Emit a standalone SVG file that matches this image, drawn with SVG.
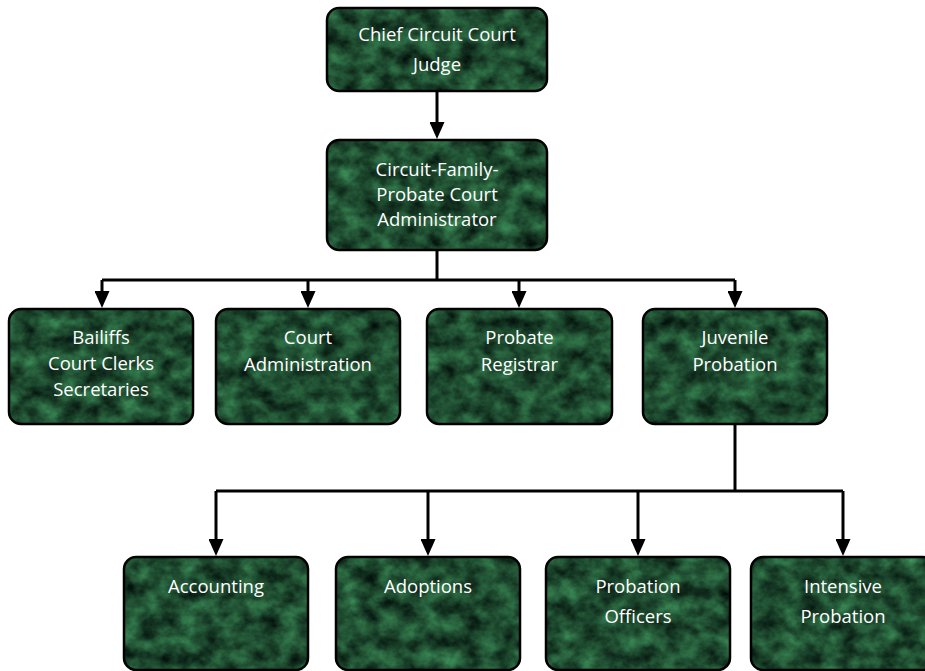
<svg xmlns="http://www.w3.org/2000/svg" width="925" height="671" viewBox="0 0 925 671">
<defs>
<filter id="marble" x="0" y="0" width="1" height="1" color-interpolation-filters="sRGB">
<feTurbulence type="fractalNoise" baseFrequency="0.05 0.06" numOctaves="4" seed="7" result="n"/>
<feColorMatrix in="n" type="matrix" values="0.28 0 0 0 -0.02  0.62 0 0 0 -0.01  0.38 0 0 0 -0.0  0 0 0 0 1" result="c"/>
<feComposite in="c" in2="SourceAlpha" operator="in"/>
</filter>
<marker id="arr" viewBox="0 0 17 15" refX="9" refY="7.5" markerWidth="17" markerHeight="15" markerUnits="userSpaceOnUse" orient="auto">
<path d="M0,0 L17,7.5 L0,15 z" fill="#000"/>
</marker>
</defs>
<style>
.bg{fill:#1f5230;filter:url(#marble);}
.bd{fill:none;stroke:#000;stroke-width:2.5;}
.t{fill:#fff;font-family:"Open Sans","Liberation Sans",sans-serif;font-size:18.5px;text-anchor:middle;}
.ln{fill:none;stroke:#000;stroke-width:3;}
.ar{marker-end:url(#arr);}
</style>
<g id="connectors">
<path class="ln ar" d="M437 91 V131"/>
<path class="ln" d="M437 250 V280 M102 280 H735"/>
<path class="ln ar" d="M102 280 V300"/>
<path class="ln ar" d="M308 280 V300"/>
<path class="ln ar" d="M519 280 V300"/>
<path class="ln ar" d="M735 280 V300"/>
<path class="ln" d="M735 424 V491 M216 491 H843"/>
<path class="ln ar" d="M216 491 V548"/>
<path class="ln ar" d="M428 491 V548"/>
<path class="ln ar" d="M638 491 V548"/>
<path class="ln ar" d="M843 491 V548"/>
</g>
<g id="chief">
<rect class="bg" x="327" y="8" width="220" height="83" rx="12"/>
<rect class="bd" x="327" y="8" width="220" height="83" rx="12"/>
<text class="t" x="437" y="41">Chief Circuit Court</text>
<text class="t" x="437" y="71">Judge</text>
</g>
<g id="administrator">
<rect class="bg" x="327" y="140" width="220" height="110" rx="12"/>
<rect class="bd" x="327" y="140" width="220" height="110" rx="12"/>
<text class="t" x="437" y="176">Circuit-Family-</text>
<text class="t" x="437" y="201">Probate Court</text>
<text class="t" x="437" y="226">Administrator</text>
</g>
<g id="bailiffs">
<rect class="bg" x="9" y="309" width="184" height="115" rx="12"/>
<rect class="bd" x="9" y="309" width="184" height="115" rx="12"/>
<text class="t" x="101" y="344">Bailiffs</text>
<text class="t" x="101" y="370">Court Clerks</text>
<text class="t" x="101" y="396">Secretaries</text>
</g>
<g id="court-admin">
<rect class="bg" x="216" y="309" width="184" height="115" rx="12"/>
<rect class="bd" x="216" y="309" width="184" height="115" rx="12"/>
<text class="t" x="308" y="344">Court</text>
<text class="t" x="308" y="371">Administration</text>
</g>
<g id="probate-registrar">
<rect class="bg" x="427" y="309" width="185" height="115" rx="12"/>
<rect class="bd" x="427" y="309" width="185" height="115" rx="12"/>
<text class="t" x="519.5" y="344">Probate</text>
<text class="t" x="519.5" y="371">Registrar</text>
</g>
<g id="juvenile-probation">
<rect class="bg" x="643" y="309" width="184" height="115" rx="12"/>
<rect class="bd" x="643" y="309" width="184" height="115" rx="12"/>
<text class="t" x="735" y="344">Juvenile</text>
<text class="t" x="735" y="371">Probation</text>
</g>
<g id="accounting">
<rect class="bg" x="124" y="557" width="184" height="113" rx="12"/>
<rect class="bd" x="124" y="557" width="184" height="113" rx="12"/>
<text class="t" x="216" y="593">Accounting</text>
</g>
<g id="adoptions">
<rect class="bg" x="336" y="557" width="184" height="113" rx="12"/>
<rect class="bd" x="336" y="557" width="184" height="113" rx="12"/>
<text class="t" x="428" y="593">Adoptions</text>
</g>
<g id="probation-officers">
<rect class="bg" x="546" y="557" width="184" height="113" rx="12"/>
<rect class="bd" x="546" y="557" width="184" height="113" rx="12"/>
<text class="t" x="638" y="593">Probation</text>
<text class="t" x="638" y="623">Officers</text>
</g>
<g id="intensive-probation">
<rect class="bg" x="751" y="557" width="184" height="113" rx="12"/>
<rect class="bd" x="751" y="557" width="184" height="113" rx="12"/>
<text class="t" x="843" y="593">Intensive</text>
<text class="t" x="843" y="623">Probation</text>
</g>
</svg>
